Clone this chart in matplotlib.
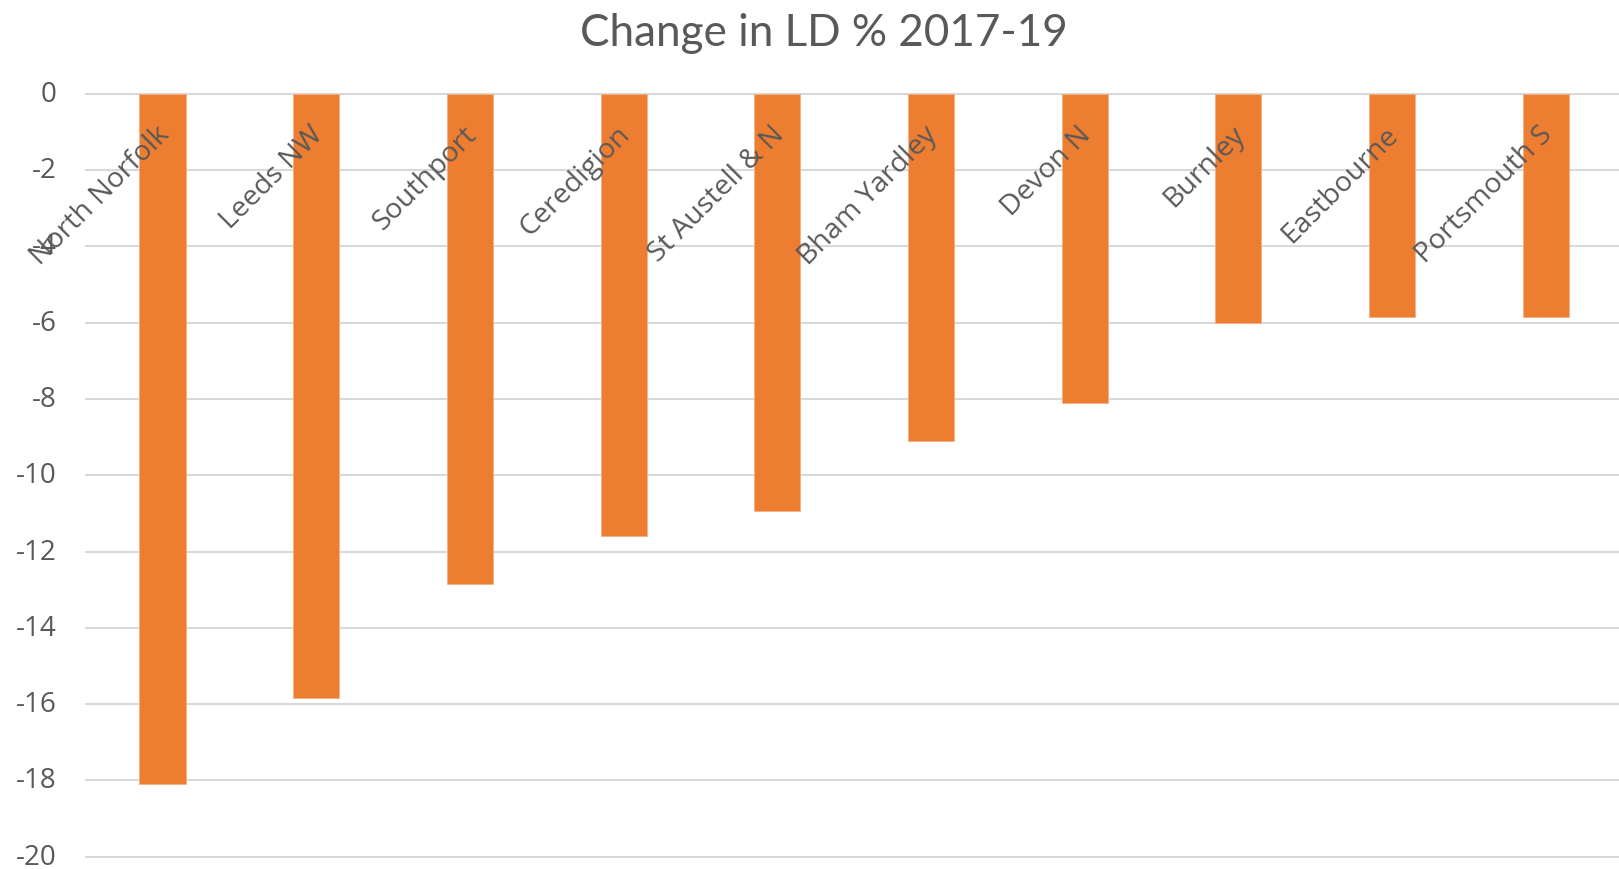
import matplotlib
matplotlib.use("Agg")
import matplotlib.pyplot as plt
import matplotlib.transforms as mtransforms
import numpy as np

categories = ["North Norfolk", "Leeds NW", "Southport", "Ceredigion", "St Austell & N",
              "Bham Yardley", "Devon N", "Burnley", "Eastbourne", "Portsmouth S"]
values = [-18.1, -15.85, -12.85, -11.6, -10.95, -9.1, -8.1, -6.0, -5.85, -5.85]
yticks = list(range(0, -21, -2))
title = "Change in LD % 2017-19"

BAR = "#ED7D31"
TXT = "#595959"
GRID = "#D9D9D9"
LABEL_FONT = ["Open Sans", "DejaVu Sans"]
TITLE_FONT = ["Lato", "DejaVu Sans"]
plt.rcParams['font.family'] = LABEL_FONT

W, H = 1619, 869
fig = plt.figure(figsize=(W / 100, H / 100), dpi=100)
ax = fig.add_axes([85.7 / W, 1 - 856.7 / H, 1 - 85.7 / W, (856.7 - 93.7) / H])

x = np.arange(len(categories))
ax.bar(x, values, width=0.30, color=BAR, edgecolor="#F4B183", linewidth=0.6, zorder=3)
ax.set_xlim(-0.5, 9.476)
ax.set_ylim(-20, 0)
ax.set_yticks(yticks)
ax.set_yticklabels([str(v) for v in yticks], color=TXT, fontsize=20)
ax.tick_params(axis='y', length=0, pad=21)
ax.set_xticks([])
for s in ax.spines.values():
    s.set_visible(False)
ax.yaxis.grid(True, color=GRID, linewidth=1.5, zorder=0)
ax.set_axisbelow(True)
for gl in ax.get_ygridlines():
    gl.set_clip_on(False)
shift = mtransforms.ScaledTranslation(0, 2.5 / 100, fig.dpi_scale_trans)
for lbl in ax.get_yticklabels():
    lbl.set_transform(lbl.get_transform() + shift)

for i, name in enumerate(categories):
    ax.text(i + 0.08, -0.72, name, rotation=45, ha='right', va='top',
            color=TXT, fontsize=20.5, zorder=4)

fig.text(0.5087, 1 - 45.5 / H, title, ha='center', va='baseline', color=TXT,
         fontsize=31.7, family=TITLE_FONT)

fig.savefig("out.png", dpi=100)
